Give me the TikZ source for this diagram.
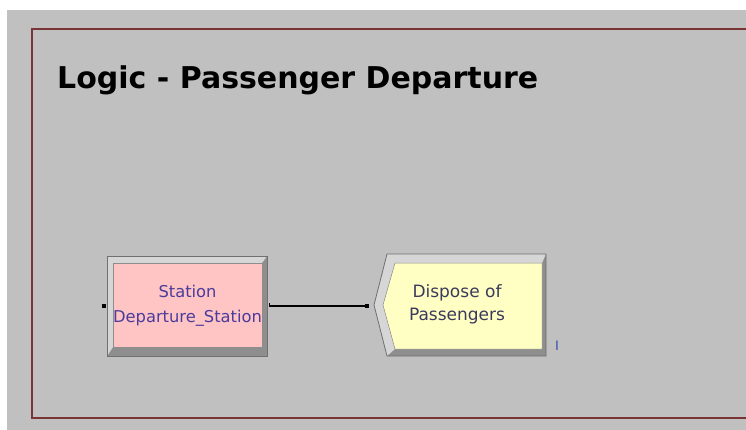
\documentclass[tikz,border=0pt]{standalone}
\usepackage{fontspec}
\setmainfont{DejaVu Sans}
\begin{document}
\begin{tikzpicture}[x=1pt,y=-1pt,
  framecol/.style={draw=frameRed,line width=2pt},
  bevlight/.style={fill=bevLight,draw=none},
  bevdark/.style={fill=bevDark,draw=none},
  outline/.style={draw=edgeGray,line width=0.8pt},
  port/.style={fill=black,draw=none,minimum size=4.5pt,inner sep=0pt,rectangle},
  modtext/.style={align=center,inner sep=0pt},
]
\definecolor{frameRed}{HTML}{7A3434}
\definecolor{bgGray}{HTML}{C0C0C0}
\definecolor{bevLight}{HTML}{D6D6D6}
\definecolor{bevDark}{HTML}{8E8E8E}
\definecolor{edgeGray}{HTML}{707070}
\definecolor{pinkFill}{HTML}{FFC4C4}
\definecolor{yellowFill}{HTML}{FFFFC4}
\definecolor{stationText}{HTML}{4A3C9C}
\definecolor{disposeText}{HTML}{3A3A5C}
\definecolor{labelBlue}{HTML}{3C4CB0}
\useasboundingbox (0,0) rectangle (746,430);
\fill[white] (0,0) rectangle (746,430);
\fill[bgGray] (7,10) rectangle (746,430);
% frame
\draw[framecol] (760,29) -- (32,29) -- (32,418) -- (760,418);
% title
\node[anchor=base west,inner sep=0pt,font=\fontsize{30}{36}\selectfont\bfseries] (title) at (57,89) {Logic - Passenger Departure};
% Station module
\fill[bevdark] (107,256) rectangle (267,356);
\fill[bevlight] (107,256) -- (267,256) -- (262,263) -- (113,263) -- (113,347) -- (107,356) -- cycle;
\fill[pinkFill] (113,263) rectangle (262,347);
\draw[outline] (107,256) rectangle (267,356);
\draw[edgeGray!80,line width=0.5pt] (113,263) rectangle (262,347);
\node[modtext,text=stationText,font=\fontsize{16.3}{25}\selectfont] (station) at (187.5,306) {Station\\Departure\_Station};
% Dispose module
\fill[bevdark] (387,254) -- (546,254) -- (546,356) -- (387,356) -- (374,305) -- cycle;
\fill[bevlight] (387,254) -- (546,254) -- (542,263) -- (395,263) -- (383,305) -- (395,349) -- (387,356) -- (374,305) -- cycle;
\fill[yellowFill] (395,263) -- (542,263) -- (542,349) -- (395,349) -- (383,305) -- cycle;
\draw[outline] (387,254) -- (546,254) -- (546,356) -- (387,356) -- (374,305) -- cycle;
\draw[edgeGray!80,line width=0.5pt] (395,263) -- (542,263) -- (542,349) -- (395,349) -- (383,305) -- cycle;
\node[modtext,text=disposeText,font=\fontsize{17}{23}\selectfont] (dispose) at (457,304) {Dispose of\\Passengers};
\node[anchor=center,inner sep=0pt,text=labelBlue,font=\fontsize{13}{15}\selectfont] (counter) at (557,346) {I};
% ports and connector
\node[port] (stationIn) at (104,306) {};
\coordinate (stationOut) at (269,306);
\node[port] (disposeIn) at (367,306) {};
\draw[black,line width=1.2pt] (stationOut) -- (disposeIn.center);
\draw[black,line width=0.8pt] (stationOut) -- ++(0,-3);
\end{tikzpicture}
\end{document}
